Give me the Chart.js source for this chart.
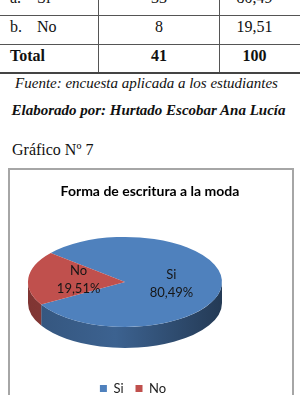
<!DOCTYPE html>
<html>
<head>
<meta charset="utf-8">
<script src="https://cdn.jsdelivr.net/npm/chart.js@4.4.1/dist/chart.umd.min.js"></script>
<style>
  body { margin: 0; width: 300px; height: 395px; overflow: hidden; background: #fff; position: relative;
         font-family: "Liberation Serif", "Times New Roman", serif; color: #111; }
  #tbl { position: absolute; left: -1px; top: -13px; width: 312px; font-size: 16px; }
  .row { display: flex; height: 29px; box-sizing: border-box; border-bottom: 1px solid #555; }
  .row.total { border-bottom: 2px solid #444; font-weight: bold; }
  .cell { box-sizing: border-box; line-height: 18px; padding-top: 1.5px; text-align: center; }
  .c1 { width: 100px; text-align: left; padding-left: 11px; border-right: 1px solid #555; }
  .c2 { width: 121px; border-right: 1px solid #555; }
  .c3 { flex: 1; padding-right: 22px; }
  .c1 .lt { display: inline-block; width: 27px; }
  .note { position: absolute; line-height: 20px; white-space: nowrap; font-family: "Liberation Serif", serif; }
  #fuente { left: 0; width: 293px; top: 72.5px; font-size: 15px; font-style: italic; text-align: center; }
  #autor { left: 0; width: 297px; top: 100px; font-size: 15px; font-style: italic; font-weight: bold; text-align: center; }
  #grafico { left: 12px; top: 140px; font-size: 16px; }
  #box { position: absolute; left: 8px; top: 168px; width: 282px; height: 260px; border: 2px solid #a6a6a6; }
  #pie { display: block; }
</style>
</head>
<body>
<div id="tbl"></div>
<div class="note" id="fuente">Fuente: encuesta aplicada a los estudiantes</div>
<div class="note" id="autor">Elaborado por: Hurtado Escobar Ana Lucía</div>
<div class="note" id="grafico">Gráfico Nº 7</div>
<div id="box"><canvas id="pie" width="280" height="235"></canvas></div>

<script>
// datos de la tabla / grafico
const letters = ['a.', 'b.'];
const categories = ['Si', 'No'];
const counts = [33, 8];
const percents = [80.49, 19.51];
const chartTitle = 'Forma de escritura a la moda';

const colors = ['#4f81bd', '#c0504d'];

const fmt = v => v.toFixed(2).replace('.', ',');

// tabla
const tbl = document.getElementById('tbl');
categories.forEach((c, i) => {
  tbl.innerHTML += '<div class="row"><div class="cell c1"><span class="lt">' + letters[i] + '</span>' + c +
    '</div><div class="cell c2">' + counts[i] + '</div><div class="cell c3">' + fmt(percents[i]) + '</div></div>';
});
const totalCount = counts.reduce((a, b) => a + b, 0);
const totalPct = Math.round(percents.reduce((a, b) => a + b, 0));
tbl.innerHTML += '<div class="row total"><div class="cell c1">Total</div><div class="cell c2">' + totalCount +
  '</div><div class="cell c3">' + totalPct + '</div></div>';

function shade(hex, k) {
  const n = parseInt(hex.slice(1), 16);
  const r = Math.round(((n >> 16) & 255) * k), g = Math.round(((n >> 8) & 255) * k), b = Math.round((n & 255) * k);
  return 'rgb(' + r + ',' + g + ',' + b + ')';
}

// pie "3D": aplasta el pastel y le pone el borde de abajo
const tilt3d = {
  id: 'tilt3d',
  beforeDatasetsDraw(chart, args, opts) {
    const arcs = chart.getDatasetMeta(0).data;
    if (!arcs.length) return;
    const { x, y, outerRadius: r } = arcs[0];
    const ctx = chart.ctx;
    const sx = opts.rx / r, sy = opts.ry / r;
    ctx.save();
    ctx.translate(x + opts.dx, y + opts.dy);
    ctx.scale(sx, sy);
    ctx.translate(-x, -y);
    const d = opts.depth / sy;
    arcs.forEach((arc, i) => {
      const base = chart.data.datasets[0].backgroundColor[i];
      const g = ctx.createLinearGradient(x - r, 0, x + r, 0);
      g.addColorStop(0, shade(base, 0.66));
      g.addColorStop(0.45, shade(base, 0.76));
      g.addColorStop(1, shade(base, 0.45));
      for (let k = -2; k <= 2; k++) {
        const a0 = Math.max(arc.startAngle, 2 * Math.PI * k);
        const a1 = Math.min(arc.endAngle, 2 * Math.PI * k + Math.PI);
        if (a1 <= a0) continue;
        ctx.beginPath();
        ctx.arc(x, y, r, a0, a1);
        ctx.arc(x, y + d, r, a1, a0, true);
        ctx.closePath();
        ctx.fillStyle = g;
        ctx.fill();
      }
    });
  },
  afterDatasetsDraw(chart, args, opts) {
    const arcs = chart.getDatasetMeta(0).data;
    if (!arcs.length) return;
    const ctx = chart.ctx;
    ctx.restore();
    const { x, y, outerRadius: r } = arcs[0];
    const sx = opts.rx / r, sy = opts.ry / r;
    ctx.save();
    ctx.font = '13px Lato';
    ctx.fillStyle = '#161616';
    ctx.textAlign = 'center';
    ctx.textBaseline = 'middle';
    arcs.forEach((arc, i) => {
      const mid = (arc.startAngle + arc.endAngle) / 2;
      const px = x + opts.dx + sx * r * opts.labelRadius * Math.cos(mid);
      const py = y + opts.dy + sy * r * opts.labelRadius * Math.sin(mid);
      ctx.fillText(chart.data.labels[i], px, py - opts.lineGap / 2);
      ctx.fillText(fmt(chart.data.datasets[0].data[i]) + '%', px, py + opts.lineGap / 2);
    });
    ctx.restore();
  }
};

const legendShift = {
  id: 'legendShift',
  afterLayout(chart, args, opts) {
    chart.legend.left += opts.dx;
    chart.legend.right += opts.dx;
  }
};

new Chart(document.getElementById('pie'), {
  type: 'pie',
  data: {
    labels: categories,
    datasets: [{ data: percents, backgroundColor: colors, borderWidth: 0, hoverOffset: 0 }]
  },
  options: {
    responsive: false,
    animation: false,
    rotation: -50,
    plugins: {
      title: {
        display: true, text: chartTitle, color: '#000',
        font: { family: 'Lato', size: 14, weight: 'bold' },
        padding: { top: 13, bottom: 10 }
      },
      legend: {
        position: 'bottom',
        labels: { boxWidth: 7, boxHeight: 7, padding: 12, color: '#222', font: { family: 'Lato', size: 13 } }
      },
      tooltip: { enabled: false },
      tilt3d: { rx: 97, ry: 45, depth: 21, dx: -25, dy: -8, labelRadius: 0.48, lineGap: 18 },
      legendShift: { dx: -17 }
    }
  },
  plugins: [tilt3d, legendShift]
});
</script>
</body>
</html>
